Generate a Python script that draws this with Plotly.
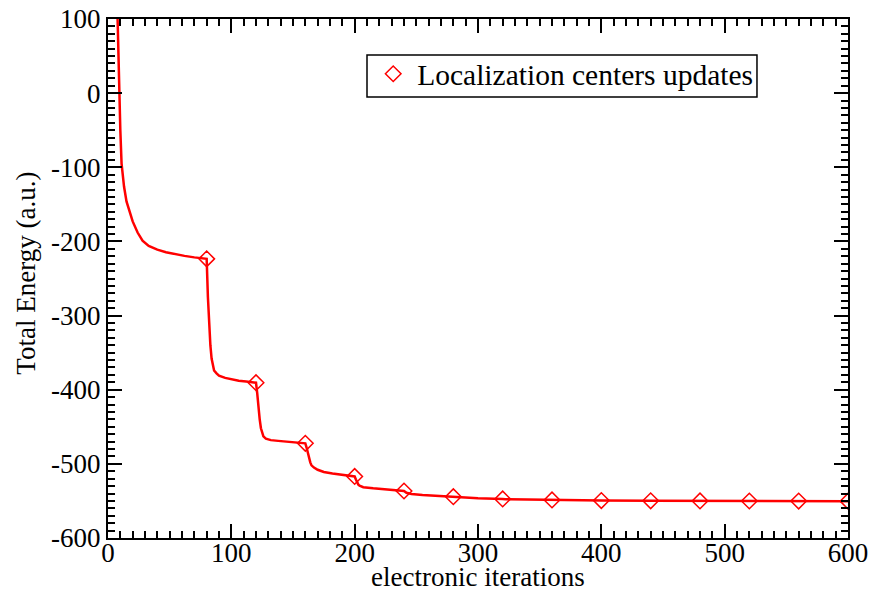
import plotly.graph_objects as go

# Total energy along the electronic iterations
iterations = [4, 6, 7, 8, 9, 10, 11, 12, 13, 15, 17, 20, 24, 28, 33, 40, 47, 54, 62, 70, 76, 80,
              81, 82, 83, 84, 85, 86, 88, 90, 95, 100, 106, 112, 116, 120,
              121, 122, 123, 124, 125, 126, 128, 132, 138, 146, 154, 160,
              161, 162, 163, 164, 165, 167, 170, 175, 182, 190, 196, 200,
              201, 202, 203, 204, 207, 215, 225, 234, 240,
              242, 246, 255, 265, 275, 280, 282, 290, 300, 320, 322, 340, 360, 380, 400,
              440, 480, 520, 560, 600]
energy = [650, 260, 150, 85, 0, -50, -95, -112, -126, -146, -158, -173, -188, -199, -206, -211,
          -214.5, -217, -219.5, -221.5, -222.5, -223.5,
          -275, -315, -340, -358, -369, -374, -378, -381, -384, -386, -388, -389, -389.8, -390.5,
          -405, -425, -440, -452, -459, -463, -466, -468, -469, -470.5, -471.4, -472.3,
          -478, -486, -493, -498, -502, -505, -508, -511, -513, -514.5, -515.5, -517,
          -521, -525, -528, -529.5, -531.5, -533, -534.5, -535.5, -536.6,
          -539, -540.7, -542, -543, -543.8, -544.3, -545.3, -546, -546.5, -547.3, -547.8, -548,
          -548.7, -549.1, -549.5, -549.8, -550, -550.1, -550.2, -550.3]

# Iterations at which the localization centers were updated
update_iter = [80, 120, 160, 200, 240, 280, 320, 360, 400, 440, 480, 520, 560, 600]
update_energy = [-223.5, -390.5, -472.3, -517, -536.6, -544.3, -547.3, -548.7, -549.5,
                 -549.8, -550, -550.1, -550.2, -550.3]

x_ticks = [0, 100, 200, 300, 400, 500, 600]
y_ticks = [-600, -500, -400, -300, -200, -100, 0, 100]
y_tick_text = [str(v) for v in y_ticks]

FONT = "Liberation Serif, Times New Roman, serif"
RED = "#ff0000"

fig = go.Figure()
fig.add_trace(go.Scatter(
    x=iterations, y=energy, mode="lines",
    line=dict(color=RED, width=2.5), showlegend=False, hoverinfo="skip",
))
fig.add_trace(go.Scatter(
    x=update_iter, y=update_energy, mode="markers",
    name="Localization centers updates",
    marker=dict(symbol="diamond-open", size=12, color=RED, line=dict(color=RED, width=1.5)),
))

axis_common = dict(
    showline=True, linecolor="black", linewidth=2, mirror="ticks",
    ticks="inside", ticklen=14, tickwidth=2, tickcolor="black",
    showgrid=False, zeroline=False, automargin=False,
    tickfont=dict(family=FONT, size=27, color="black"),
    minor=dict(ticks="inside", ticklen=7, tickwidth=2, tickcolor="black", dtick=10, showgrid=False),
)

fig.update_xaxes(
    range=[0, 600], tickvals=x_ticks, ticktext=[str(v) for v in x_ticks],
    ticklabelstandoff=-10,
    **axis_common,
)
fig.update_yaxes(
    range=[-600, 100], tickvals=y_ticks, ticktext=y_tick_text,
    **axis_common,
)

title_font = dict(family=FONT, size=27, color="black")
fig.add_annotation(
    text="electronic iterations", xref="paper", yref="paper",
    x=0.5, y=-0.106, xanchor="center", yanchor="bottom",
    showarrow=False, font=title_font, borderpad=0,
)
fig.add_annotation(
    text="Total Energy (a.u.)", xref="paper", yref="paper",
    x=-0.111, y=0.511, xanchor="center", yanchor="middle", textangle=-90,
    showarrow=False, font=title_font,
)

# Frame around the legend
fig.add_shape(
    type="rect", xref="paper", yref="paper",
    x0=0.35, x1=0.877, y0=0.8497, y1=0.9306,
    line=dict(color="black", width=1.5), fillcolor="white", layer="below",
)

fig.update_layout(
    width=870, height=594,
    margin=dict(l=108, r=22, t=19, b=56),
    plot_bgcolor="white", paper_bgcolor="white",
    font=dict(family=FONT, color="black"),
    legend=dict(
        x=0.353, y=0.944, xanchor="left", yanchor="top",
        borderwidth=0, bgcolor="rgba(0,0,0,0)",
        font=dict(family=FONT, size=29.5, color="black"),
        itemwidth=38,
    ),
)

fig.write_html("out.html")
